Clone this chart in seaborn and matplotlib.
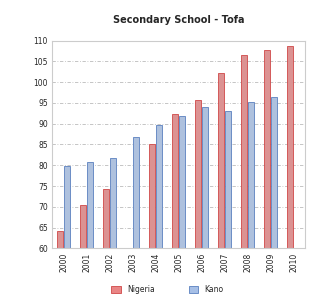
import matplotlib
matplotlib.use("Agg")
import matplotlib.pyplot as plt
from matplotlib.patches import Patch
import seaborn as sns
import numpy as np
import pandas as pd

# values
years = ["2000", "2001", "2002", "2003", "2004", "2005",
         "2006", "2007", "2008", "2009", "2010"]
red_values = [64.2, 70.4, 74.2, np.nan, 85.0, 92.4, 95.7, 102.2, 106.6, 107.7, 108.7]
blue_values = [79.8, 80.9, 81.7, 86.8, 89.7, 91.9, 94.1, 93.1, 95.3, 96.4, np.nan]
series_names = ["Nigeria", "Kano"]
y_ticks = [60, 65, 70, 75, 80, 85, 90, 95, 100, 105, 110]

df = pd.DataFrame({
    "Year": years * 2,
    "Value": red_values + blue_values,
    "Series": [series_names[0]] * len(years) + [series_names[1]] * len(years),
})

sns.set_style("white")
plt.rcParams['font.family'] = ['DejaVu Sans']

fig, ax = plt.subplots(figsize=(3.1, 2.97), dpi=100)
fig.subplots_adjust(left=0.168, right=0.984, top=0.863, bottom=0.164)

palette = {series_names[0]: "#e98585", series_names[1]: "#a6bfe6"}
sns.barplot(data=df, x="Year", y="Value", hue="Series", palette=palette,
            width=0.6, gap=0.1, linewidth=0, ax=ax, legend=False)

# darker bar outlines like the original
edge = {0: "#d04848", 1: "#5a80bf"}
for i, container in enumerate(ax.containers):
    for bar in container:
        bar.set_edgecolor(edge[i])
        bar.set_linewidth(0.6)

ax.set_ylim(60, 110)
ax.set_xlim(-0.5, 10.5)
ax.set_yticks(y_ticks)
ax.set_yticklabels([str(t) for t in y_ticks], fontsize=5.5)
ax.set_xticks(range(len(years)))
ax.set_xticklabels(years, rotation=90, fontsize=5.5)
ax.tick_params(axis='both', length=0, pad=3)
ax.set_xlabel("")
ax.set_ylabel("")

ax.yaxis.grid(True, color="#bbbbbb", linestyle=(0, (4, 2, 1, 2)), linewidth=0.6)
ax.set_axisbelow(True)
for s in ax.spines.values():
    s.set_color("#cccccc")
    s.set_linewidth(0.8)

ax.set_title("Secondary School - Tofa", fontsize=7, fontweight="bold", pad=13)

handles = [Patch(facecolor=palette[n], edgecolor=edge[i], linewidth=0.6)
           for i, n in enumerate(series_names)]
fig.legend(handles, series_names, loc="center", bbox_to_anchor=(0.54, 0.025),
           ncol=2, frameon=False, fontsize=5.5, handlelength=1.2, handleheight=1.0,
           columnspacing=4.5, handletextpad=0.8)

fig.savefig("out.png", dpi=100)
